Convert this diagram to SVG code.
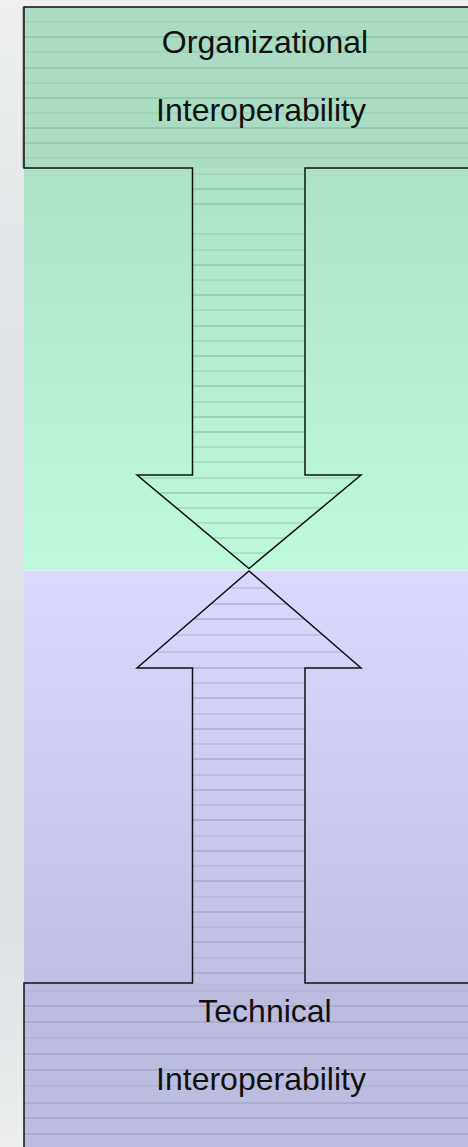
<svg xmlns="http://www.w3.org/2000/svg" width="468" height="1147" viewBox="0 0 468 1147">
<defs>
<linearGradient id="gGreen" x1="0" y1="0" x2="0" y2="1">
<stop offset="0" stop-color="#ade2c8"/>
<stop offset="1" stop-color="#bdf9dd"/>
</linearGradient>
<linearGradient id="gPurple" x1="0" y1="0" x2="0" y2="1">
<stop offset="0" stop-color="#d9d9fd"/>
<stop offset="1" stop-color="#c0c0e4"/>
</linearGradient>
<linearGradient id="gBg" x1="0" y1="0" x2="0" y2="1">
<stop offset="0" stop-color="#eef0f0"/>
<stop offset="0.3" stop-color="#e0e3e6"/>
<stop offset="0.8" stop-color="#dde0e3"/>
<stop offset="1" stop-color="#eceeef"/>
</linearGradient>
<clipPath id="cTop">
<path d="M24 7 H468 V168 H305 V475 H361 L249 568.5 L137 475 H192.5 V168 H24 Z"/>
</clipPath>
<clipPath id="cBot">
<path d="M24 1147 H468 V983 H305 V668 H361 L249 571 L137 668 H192.5 V983 H24 Z"/>
</clipPath>
<style>
.outline{fill:none;stroke:#111;stroke-width:1.5;stroke-linejoin:miter}
.sg{stroke:#86b49a;stroke-width:1}
.sg2{stroke:#9cc8b0;stroke-width:1}
.sp{stroke:#9a9ac0;stroke-width:1}
.sp2{stroke:#aeaed2;stroke-width:1}
.lbl{font-family:"Liberation Sans",Arial,sans-serif;font-size:32px;fill:#111;text-anchor:middle}
</style>
</defs>
<g id="background">
<rect x="0" y="0" width="468" height="1147" fill="url(#gBg)"/>
<rect x="0" y="0" width="468" height="7" fill="#f0f0f0"/>
<rect x="24" y="168" width="444" height="401.5" fill="url(#gGreen)"/>
<rect x="24" y="569.5" width="444" height="1.5" fill="#e6ecee"/>
<rect x="24" y="571" width="444" height="412" fill="url(#gPurple)"/>
</g>
<g id="node-organizational">
<rect x="24" y="7" width="444" height="161" fill="#a9dcc2"/>
<g clip-path="url(#cTop)">
<line class="sg2" x1="24" x2="468" y1="22" y2="22"/>
<line class="sg" x1="24" x2="468" y1="37" y2="37"/>
<line class="sg2" x1="24" x2="468" y1="52" y2="52"/>
<line class="sg" x1="24" x2="468" y1="68" y2="68"/>
<line class="sg2" x1="24" x2="468" y1="83" y2="83"/>
<line class="sg" x1="24" x2="468" y1="98" y2="98"/>
<line class="sg2" x1="24" x2="468" y1="113" y2="113"/>
<line class="sg" x1="24" x2="468" y1="128" y2="128"/>
<line class="sg" x1="24" x2="468" y1="143" y2="143"/>
<line class="sg2" x1="24" x2="468" y1="158" y2="158"/>
<line class="sg2" x1="24" x2="468" y1="174" y2="174"/>
<line class="sg" x1="24" x2="468" y1="189" y2="189"/>
<line class="sg" x1="24" x2="468" y1="204" y2="204"/>
<line class="sg2" x1="24" x2="468" y1="234" y2="234"/>
<line class="sg2" x1="24" x2="468" y1="250" y2="250"/>
<line class="sg" x1="24" x2="468" y1="265" y2="265"/>
<line class="sg2" x1="24" x2="468" y1="280" y2="280"/>
<line class="sg" x1="24" x2="468" y1="295" y2="295"/>
<line class="sg2" x1="24" x2="468" y1="310" y2="310"/>
<line class="sg" x1="24" x2="468" y1="326" y2="326"/>
<line class="sg2" x1="24" x2="468" y1="341" y2="341"/>
<line class="sg" x1="24" x2="468" y1="356" y2="356"/>
<line class="sg2" x1="24" x2="468" y1="371" y2="371"/>
<line class="sg" x1="24" x2="468" y1="386" y2="386"/>
<line class="sg2" x1="24" x2="468" y1="402" y2="402"/>
<line class="sg" x1="24" x2="468" y1="417" y2="417"/>
<line class="sg" x1="24" x2="468" y1="432" y2="432"/>
<line class="sg2" x1="24" x2="468" y1="447" y2="447"/>
<line class="sg2" x1="24" x2="468" y1="462" y2="462"/>
<line class="sg2" x1="24" x2="468" y1="478" y2="478"/>
<line class="sg" x1="24" x2="468" y1="493" y2="493"/>
<line class="sg2" x1="24" x2="468" y1="508" y2="508"/>
<line class="sg2" x1="24" x2="468" y1="523" y2="523"/>
<line class="sg2" x1="24" x2="468" y1="538" y2="538"/>
<line class="sg2" x1="24" x2="468" y1="553" y2="553"/>
</g>
<line x1="23" y1="7" x2="23" y2="168" stroke="#808080" stroke-width="1"/>
<text class="lbl" x="265" y="53">Organizational</text>
<text class="lbl" x="261" y="121">Interoperability</text>
</g>
<g id="node-technical">
<rect x="24" y="983" width="444" height="164" fill="#bcbcdf"/>
<g clip-path="url(#cBot)">
<line class="sp2" x1="24" x2="468" y1="588" y2="588"/>
<line class="sp" x1="24" x2="468" y1="604" y2="604"/>
<line class="sp" x1="24" x2="468" y1="619" y2="619"/>
<line class="sp2" x1="24" x2="468" y1="635" y2="635"/>
<line class="sp2" x1="24" x2="468" y1="652" y2="652"/>
<line class="sp" x1="24" x2="468" y1="668" y2="668"/>
<line class="sp2" x1="24" x2="468" y1="683" y2="683"/>
<line class="sp" x1="24" x2="468" y1="698" y2="698"/>
<line class="sp2" x1="24" x2="468" y1="714" y2="714"/>
<line class="sp" x1="24" x2="468" y1="729" y2="729"/>
<line class="sp2" x1="24" x2="468" y1="744" y2="744"/>
<line class="sp" x1="24" x2="468" y1="759" y2="759"/>
<line class="sp2" x1="24" x2="468" y1="775" y2="775"/>
<line class="sp" x1="24" x2="468" y1="790" y2="790"/>
<line class="sp2" x1="24" x2="468" y1="805" y2="805"/>
<line class="sp" x1="24" x2="468" y1="820" y2="820"/>
<line class="sp2" x1="24" x2="468" y1="836" y2="836"/>
<line class="sp" x1="24" x2="468" y1="851" y2="851"/>
<line class="sp2" x1="24" x2="468" y1="866" y2="866"/>
<line class="sp" x1="24" x2="468" y1="881" y2="881"/>
<line class="sp2" x1="24" x2="468" y1="897" y2="897"/>
<line class="sp" x1="24" x2="468" y1="912" y2="912"/>
<line class="sp2" x1="24" x2="468" y1="927" y2="927"/>
<line class="sp" x1="24" x2="468" y1="942" y2="942"/>
<line class="sp2" x1="24" x2="468" y1="958" y2="958"/>
<line class="sp" x1="24" x2="468" y1="973" y2="973"/>
<line class="sp2" x1="24" x2="468" y1="991" y2="991"/>
<line class="sp" x1="24" x2="468" y1="1006" y2="1006"/>
<line class="sp" x1="24" x2="468" y1="1022" y2="1022"/>
<line class="sp2" x1="24" x2="468" y1="1038" y2="1038"/>
<line class="sp" x1="24" x2="468" y1="1054" y2="1054"/>
<line class="sp" x1="24" x2="468" y1="1070" y2="1070"/>
<line class="sp2" x1="24" x2="468" y1="1086" y2="1086"/>
<line class="sp" x1="24" x2="468" y1="1103" y2="1103"/>
<line class="sp" x1="24" x2="468" y1="1118" y2="1118"/>
<line class="sp" x1="24" x2="468" y1="1134" y2="1134"/>
</g>
<text class="lbl" x="265" y="1022">Technical</text>
<text class="lbl" x="261" y="1090">Interoperability</text>
</g>
<g id="connectors">
<path class="outline" d="M468 7 H24 V168 H192.5 V475 H137 L249 568.5 L361 475 H305 V168 H468"/>
<path class="outline" d="M468 983 H305 V668 H361 L249 571 L137 668 H192.5 V983 H24 V1147"/>
</g>
</svg>
